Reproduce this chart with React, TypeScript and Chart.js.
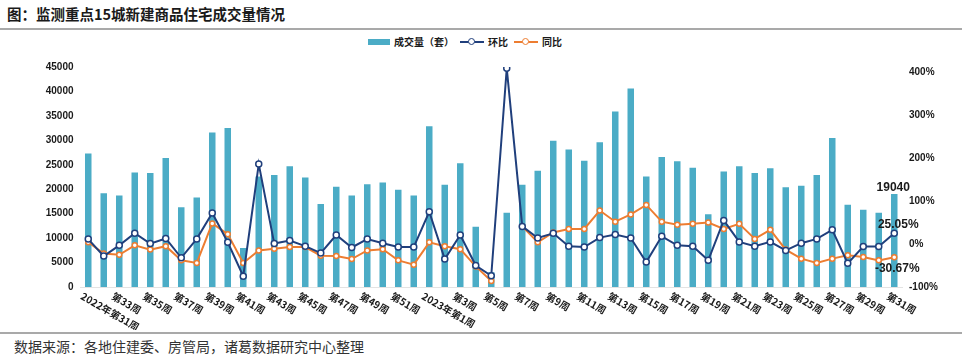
import React, { useEffect, useRef } from 'react';
import { Chart, registerables } from 'chart.js';

Chart.register(...registerables);

const categories = [
  '2022年第31周', '第32周', '第33周', '第34周', '第35周', '第36周', '第37周', '第38周', '第39周', '第40周',
  '第41周', '第42周', '第43周', '第44周', '第45周', '第46周', '第47周', '第48周', '第49周', '第50周',
  '第51周', '第52周',
  '2023年第1周', '第2周', '第3周', '第4周', '第5周', '第6周', '第7周', '第8周', '第9周', '第10周',
  '第11周', '第12周', '第13周', '第14周', '第15周', '第16周', '第17周', '第18周', '第19周', '第20周',
  '第21周', '第22周', '第23周', '第24周', '第25周', '第26周', '第27周', '第28周', '第29周', '第30周',
  '第31周',
];

// 成交量（套）
const volumes = [
  27300, 19200, 18700, 23400, 23300, 26400, 16300, 18300, 31600, 32500,
  8000, 22600, 22900, 24700, 22400, 17000, 20500, 18700, 21000, 21400,
  19900, 18700,
  32900, 20900, 25300, 12300, 3000, 15200, 20900, 23800, 29900, 28100,
  25800, 29600, 35900, 40600, 22600, 26600, 25700, 24400, 14900, 23600,
  24700, 23300, 24300, 20400, 20700, 22900, 30500, 16800, 15800, 15200,
  19040,
];

// 环比 (%)
const huanbi = [
  11.5, -28, -3, 25, 1, 13, -32, 12, 72, 4,
  -75, 186, 1, 8, -5, -21, 21, -8, 11.5, 2,
  -7, -7,
  75, -35, 21, -50, -74, 409, 41, 14, 25, -5,
  -7, 15, 22, 14, -42, 18, -3, -5, -38, 55,
  5, -5, 5, -15, 2, 12, 33, -45, -6, -6,
  25.05,
];

// 同比 (%)
const tongbi: (number | null)[] = [
  4, -22, -25, -3, -13, -5, -38, -44, 48, 23,
  -44, -15, -11, -7, -7, -27, -28, -35, -15, -12,
  -38, -48,
  4, -5, -12, -52, -86, null, 41, 4, 27, 35,
  35, 78, 52, 69, 91, 52, 45, 47, 50, 35,
  47, 12, 33, -13, -34, -44, -34, -26, -30, -38,
  -30.67,
];

const leftTicks = [0, 5000, 10000, 15000, 20000, 25000, 30000, 35000, 40000, 45000];
const rightTicks = [-100, 0, 100, 200, 300, 400];

const lastVolumeLabel = '19040';
const lastHuanbiLabel = '25.05%';
const lastTongbiLabel = '-30.67%';

const BAR_COLOR = '#4bacc6';
const NAVY = '#203f7c';
const ORANGE = '#ed7d31';
const CJK = '"Noto Sans CJK SC", "Noto Sans", sans-serif';

const labelPlugin = {
  id: 'customLabels',
  afterDraw(chart: any) {
    const { ctx, chartArea } = chart;
    const xScale = chart.scales.x;
    ctx.save();
    ctx.font = `bold 10px ${CJK}`;
    ctx.fillStyle = '#1a1a1a';
    ctx.textAlign = 'left';
    ctx.textBaseline = 'top';
    categories.forEach((c, i) => {
      if (i % 2 !== 0) return;
      const x = xScale.getPixelForValue(i);
      ctx.save();
      ctx.translate(x - 4, chartArea.bottom + 4);
      ctx.rotate((30 * Math.PI) / 180);
      ctx.fillText(c, 0, 0);
      ctx.restore();
    });

    const last = categories.length - 1;
    const barMeta = chart.getDatasetMeta(2);
    const hbMeta = chart.getDatasetMeta(0);
    const tbMeta = chart.getDatasetMeta(1);
    ctx.font = 'bold 12px "Liberation Sans", Arial, sans-serif';
    ctx.fillStyle = '#1a1a1a';
    ctx.textAlign = 'center';
    const bar = barMeta.data[last];
    ctx.textBaseline = 'bottom';
    ctx.fillText(lastVolumeLabel, bar.x - 1, bar.y);
    const hp = hbMeta.data[last];
    ctx.fillText(lastHuanbiLabel, hp.x + 4, hp.y - 3);
    const tp = tbMeta.data[last];
    ctx.textBaseline = 'top';
    ctx.fillText(lastTongbiLabel, tp.x + 3, tp.y + 5);
    ctx.restore();
  },
};

function LineSwatch({ color }: { color: string }) {
  return (
    <span style={{ position: 'relative', display: 'inline-block', width: 24, height: 8, marginRight: 4 }}>
      <span style={{ position: 'absolute', left: 0, right: 0, top: 3, height: 2, background: color }} />
      <span
        style={{
          position: 'absolute', left: 8, top: 0, width: 5, height: 5, borderRadius: '50%',
          border: `1.5px solid ${color}`, background: '#fff',
        }}
      />
    </span>
  );
}

export default function App() {
  const canvasRef = useRef<HTMLCanvasElement | null>(null);

  useEffect(() => {
    const canvas = canvasRef.current;
    if (!canvas) return;
    const chart = new Chart(canvas, {
      type: 'bar',
      data: {
        labels: categories,
        datasets: [
          {
            type: 'line',
            label: '环比',
            data: huanbi,
            yAxisID: 'y1',
            borderColor: NAVY,
            backgroundColor: '#ffffff',
            borderWidth: 2,
            pointRadius: 3,
            pointBorderWidth: 1.5,
            pointBackgroundColor: '#ffffff',
            pointBorderColor: NAVY,
            tension: 0,
            order: 1,
          } as any,
          {
            type: 'line',
            label: '同比',
            data: tongbi,
            yAxisID: 'y1',
            borderColor: ORANGE,
            backgroundColor: '#ffffff',
            borderWidth: 2,
            pointRadius: 2.5,
            pointBorderWidth: 1.5,
            pointBackgroundColor: '#ffffff',
            pointBorderColor: ORANGE,
            tension: 0,
            spanGaps: false,
            order: 2,
          } as any,
          {
            type: 'bar',
            label: '成交量（套）',
            data: volumes,
            yAxisID: 'y',
            backgroundColor: BAR_COLOR,
            barPercentage: 0.42,
            categoryPercentage: 1,
            order: 3,
          },
        ],
      },
      options: {
        animation: false,
        responsive: false,
        maintainAspectRatio: false,
        layout: { padding: { top: 37, left: 0, right: 0, bottom: 0 } },
        plugins: {
          legend: { display: false },
          tooltip: { enabled: false },
          title: { display: false },
        },
        scales: {
          x: {
            grid: { display: false, drawTicks: false },
            ticks: { display: false },
            border: { display: true, color: '#e3e3e3', width: 1 },
            afterFit: (s: any) => { s.height = 43; },
          },
          y: {
            position: 'left',
            min: 0,
            max: 45000,
            afterBuildTicks: (s: any) => { s.ticks = leftTicks.map((v) => ({ value: v })); },
            ticks: {
              padding: 7,
              color: '#1a1a1a',
              font: { family: '"Liberation Sans", Arial, sans-serif', size: 10, weight: 'bold' },
              callback: (v: any) => String(v),
            },
            grid: { display: false, drawTicks: false },
            border: { display: false },
            afterFit: (s: any) => { s.width = 80.5; },
          },
          y1: {
            position: 'right',
            min: -100,
            max: 412,
            afterBuildTicks: (s: any) => { s.ticks = rightTicks.map((v) => ({ value: v })); },
            ticks: {
              padding: 7,
              color: '#1a1a1a',
              font: { family: '"Liberation Sans", Arial, sans-serif', size: 10, weight: 'bold' },
              callback: (v: any) => `${v}%`,
            },
            grid: { display: false, drawTicks: false },
            border: { display: false },
            afterFit: (s: any) => { s.width = 60; },
          },
        },
      } as any,
      plugins: [labelPlugin],
    });
    return () => chart.destroy();
  }, []);

  return (
    <div style={{ position: 'fixed', left: 0, top: 0, width: 962, height: 361, background: '#fff', overflow: 'hidden' }}>
      <div
        style={{
          position: 'absolute', left: 7, top: 3, fontFamily: CJK, fontWeight: 'bold', fontSize: 14.5,
          lineHeight: '22px', color: '#1a1a1a', whiteSpace: 'nowrap',
        }}
      >
        图：监测重点15城新建商品住宅成交量情况
      </div>
      <div style={{ position: 'absolute', left: 0, top: 28, width: 962, height: 2, background: '#a9a9a9' }} />
      <div
        style={{
          position: 'absolute', left: 368, top: 35, display: 'flex', alignItems: 'center',
          fontFamily: CJK, fontWeight: 'bold', fontSize: 10, lineHeight: '14px', color: '#1a1a1a', whiteSpace: 'nowrap',
        }}
      >
        <span style={{ display: 'inline-block', width: 22, height: 6, background: BAR_COLOR, marginRight: 4 }} />
        <span style={{ marginRight: 6 }}>成交量（套）</span>
        <LineSwatch color={NAVY} />
        <span style={{ marginRight: 6 }}>环比</span>
        <LineSwatch color={ORANGE} />
        <span>同比</span>
      </div>
      <canvas
        ref={canvasRef}
        width={962}
        height={300}
        style={{ position: 'absolute', left: 0, top: 30, width: 962, height: 300 }}
      />
      <div style={{ position: 'absolute', left: 0, top: 332, width: 962, height: 2, background: '#a9a9a9' }} />
      <div
        style={{
          position: 'absolute', left: 14, top: 336, fontFamily: CJK, fontSize: 14, lineHeight: '20px',
          color: '#333', whiteSpace: 'nowrap',
        }}
      >
        数据来源：各地住建委、房管局，诸葛数据研究中心整理
      </div>
    </div>
  );
}
